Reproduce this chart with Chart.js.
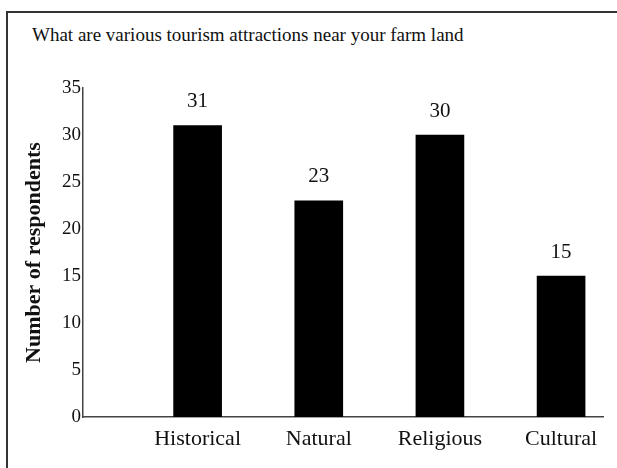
<!DOCTYPE html>
<html>
<head>
<meta charset="utf-8">
<script src="https://cdn.jsdelivr.net/npm/chart.js@4"></script>
<style>
  html, body { margin: 0; padding: 0; background: #fff; overflow: hidden; }
  #wrap { position: relative; width: 617px; height: 468px; }
  #frame {
    position: absolute; left: 6px; top: 11px; width: 700px; height: 600px;
    border-left: 2px solid #333; border-top: 2px solid #333;
  }
  #title {
    position: absolute; left: 32px; top: 24px;
    font: 19px "Liberation Serif", "Times New Roman", serif; color: #111;
    white-space: nowrap;
  }
  canvas { position: absolute; left: 0; top: 0; }
</style>
</head>
<body>
<div id="wrap">
  <div id="frame"></div>
  <div id="title">What are various tourism attractions near your farm land</div>
  <canvas id="chart" width="617" height="468"></canvas>
</div>
<script>
// Dados do gráfico
const categorias = ['Historical', 'Natural', 'Religious', 'Cultural'];
const respondentes = [31, 23, 30, 15];
const ticksY = [0, 5, 10, 15, 20, 25, 30, 35];

const serif = '"Liberation Serif", "Times New Roman", serif';

// Rótulo numérico acima de cada barra
const valoresPlugin = {
  id: 'valores',
  afterDatasetsDraw(chart) {
    const ctx = chart.ctx;
    const meta = chart.getDatasetMeta(0);
    ctx.save();
    ctx.font = '21px ' + serif;
    ctx.fillStyle = '#111';
    ctx.textAlign = 'center';
    ctx.textBaseline = 'middle';
    meta.data.forEach((bar, i) => {
      ctx.fillText(String(respondentes[i]), bar.x, bar.y - 24);
    });
    ctx.restore();
  }
};

const ctx = document.getElementById('chart').getContext('2d');
new Chart(ctx, {
  type: 'bar',
  data: {
    datasets: [{
      data: respondentes.map((v, i) => ({ x: i + 1, y: v })),
      backgroundColor: '#000',
      borderWidth: 0,
      barThickness: 48
    }]
  },
  options: {
    responsive: false,
    animation: false,
    layout: { padding: { top: 88, right: 14, left: 0, bottom: 0 } },
    plugins: {
      legend: { display: false },
      tooltip: { enabled: false }
    },
    scales: {
      x: {
        type: 'linear',
        offset: false,
        min: 0.054,
        max: 4.346,
        grid: { display: false, drawTicks: false },
        border: { display: true, color: '#444', width: 1.5 },
        afterBuildTicks: s => { s.ticks = categorias.map((c, i) => ({ value: i + 1 })); },
        afterFit: s => { s.height = 51; },
        ticks: {
          autoSkip: false,
          maxRotation: 0,
          padding: 9,
          color: '#111',
          font: { family: serif, size: 22 },
          callback: v => categorias[v - 1] || ''
        }
      },
      y: {
        min: 0,
        max: 35,
        grid: { display: false, drawTicks: false },
        border: { display: true, color: '#444', width: 1.5 },
        afterBuildTicks: s => { s.ticks = ticksY.map(v => ({ value: v })); },
        afterFit: s => { s.width = 83; },
        ticks: {
          padding: 2,
          color: '#111',
          font: { family: serif, size: 19 }
        },
        title: {
          display: true,
          text: 'Number of respondents',
          color: '#111',
          padding: { top: 21, bottom: 0 },
          font: { family: serif, size: 22, weight: 'bold' }
        }
      }
    }
  },
  plugins: [valoresPlugin]
});
</script>
</body>
</html>
